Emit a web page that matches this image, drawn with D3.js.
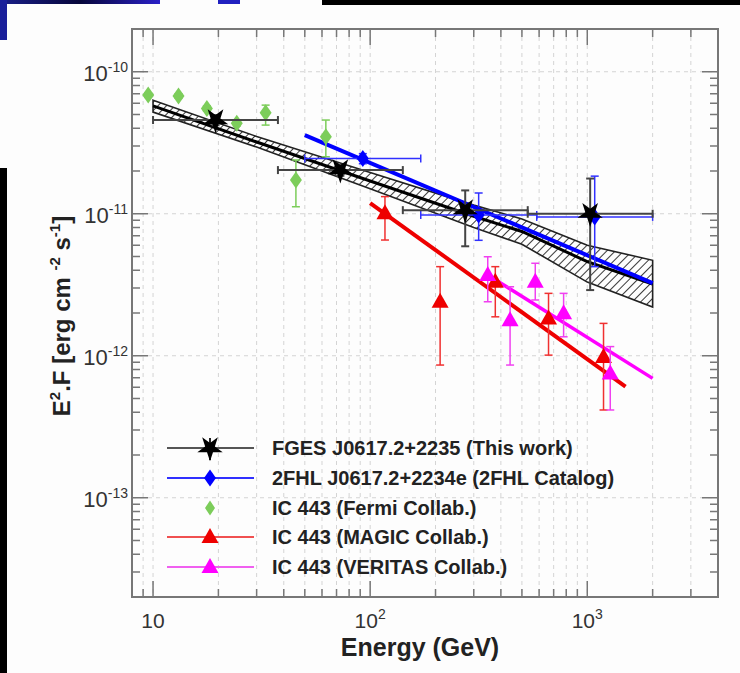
<!DOCTYPE html>
<html><head><meta charset="utf-8">
<script src="https://cdn.jsdelivr.net/npm/d3@7"></script>
<style>
html,body{margin:0;padding:0;background:#fdfdfd;}
svg{display:block;font-family:"Liberation Sans",Arial,Helvetica,sans-serif;}
</style></head>
<body>
<svg id="c" width="740" height="673"></svg>
<script>
// ---------- DATA ----------
// FGES J0617.2+2235 (This work)
const fgesE    = [19.4, 72.9, 274, 1031];
const fgesElo  = [10, 37.6, 141.4, 531.8];
const fgesEhi  = [37.6, 141.4, 531.8, 2000];
const fgesF    = [4.57e-11, 2.03e-11, 1.06e-11, 1.0e-11];
const fgesFlo  = [4.2e-11, 1.85e-11, 5.9e-12, 2.9e-12];
const fgesFhi  = [4.95e-11, 2.2e-11, 1.46e-11, 1.77e-11];
// butterfly (fit + uncertainty band)
const bandE     = [10, 30, 100, 300, 500, 1000, 2000];
const bandUpper = [6.3e-11, 3.5e-11, 1.95e-11, 1.15e-11, 9.2e-12, 6.0e-12, 4.7e-12];
const bandLower = [5.2e-11, 2.95e-11, 1.5e-11, 8.0e-12, 6.1e-12, 3.3e-12, 2.2e-12];
const bandFit   = [5.75e-11, 3.2e-11, 1.7e-11, 9.6e-12, 7.5e-12, 4.6e-12, 3.2e-12];
// 2FHL J0617.2+2234e
const fhlE   = [92.5, 316, 1082];
const fhlElo = [50, 171, 585];
const fhlEhi = [171, 585, 2000];
const fhlF   = [2.45e-11, 9.8e-12, 9.5e-12];
const fhlFlo = [2.25e-11, 6.5e-12, 4.24e-12];
const fhlFhi = [2.65e-11, 1.40e-11, 1.84e-11];
const fhlFitE = [50, 2000];
const fhlFitF = [3.58e-11, 3.25e-12];
// IC 443 Fermi
const fermiE   = [9.5, 13.1, 17.7, 24.3, 33.0, 45.5, 62.5];
const fermiF   = [6.86e-11, 6.74e-11, 5.52e-11, 4.33e-11, 5.14e-11, 1.73e-11, 3.48e-11];
const fermiFlo = [6.6e-11, 6.5e-11, 5.3e-11, 4.15e-11, 4.21e-11, 1.12e-11, 2.52e-11];
const fermiFhi = [7.1e-11, 7.0e-11, 5.75e-11, 4.5e-11, 5.82e-11, 2.39e-11, 4.57e-11];
// IC 443 MAGIC
const magicE   = [117, 210, 377, 663, 1188];
const magicF   = [1.01e-11, 2.40e-12, 3.32e-12, 1.83e-12, 9.8e-13];
const magicFlo = [6.53e-12, 8.6e-13, 1.88e-12, 1.01e-12, 4.15e-13];
const magicFhi = [1.32e-11, 4.24e-12, 4.24e-12, 2.75e-12, 1.69e-12];
const magicFitE = [100, 1500];
const magicFitF = [1.19e-11, 6.05e-13];
// IC 443 VERITAS
const veritasE   = [348, 441, 576, 778, 1276];
const veritasF   = [3.70e-12, 1.78e-12, 3.32e-12, 1.99e-12, 7.5e-13];
const veritasFlo = [2.40e-12, 8.6e-13, 2.47e-12, 1.36e-12, 4.15e-13];
const veritasFhi = [4.98e-12, 3.06e-12, 4.48e-12, 2.75e-12, 1.16e-12];
const veritasFitE = [339, 2000];
const veritasFitF = [3.8e-12, 6.93e-13];
// axes
const xMajor = [10, 100, 1000];
const xLabelBase = ["10", "10", "10"];
const xLabelSup  = ["", "2", "3"];
const yMajor = [1e-10, 1e-11, 1e-12, 1e-13];
const yLabelSup = ["-10", "-11", "-12", "-13"];
const legendLabels = ["FGES J0617.2+2235 (This work)", "2FHL J0617.2+2234e (2FHL Catalog)",
  "IC 443 (Fermi Collab.)", "IC 443 (MAGIC Collab.)", "IC 443 (VERITAS Collab.)"];

// ---------- CHART ----------
const svg = d3.select("#c");
const L = 132, T = 29, R = 718, B = 597;
const x = d3.scaleLog().domain([8, 4000]).range([L, R]);
const y = d3.scaleLog().domain([2e-14, 2e-10]).range([B, T]);

const C = {black:"#000", blue:"#0000ff", green:"#7ccd5a", red:"#ee0000", mag:"#ff00ff"};

// slide remnants around the picture
svg.append("rect").attr("x",0).attr("y",0).attr("width",740).attr("height",673).attr("fill","#fdfdfd");
const dg = svg.append("defs");
const lg = dg.append("linearGradient").attr("id","bg1").attr("x1","0").attr("x2","1");
lg.append("stop").attr("offset","0").attr("stop-color","#1a1f8a");
lg.append("stop").attr("offset","0.5").attr("stop-color","#06063a");
lg.append("stop").attr("offset","1").attr("stop-color","#2a20c8");
svg.append("rect").attr("x",0).attr("y",0).attr("width",160).attr("height",4).attr("fill","url(#bg1)");
svg.append("rect").attr("x",0).attr("y",0).attr("width",7).attr("height",40).attr("fill","#1a1f9a");
svg.append("rect").attr("x",218).attr("y",0).attr("width",22).attr("height",4).attr("fill","#2020c0");
svg.append("rect").attr("x",322).attr("y",0).attr("width",418).attr("height",5).attr("fill","#000");
svg.append("rect").attr("x",0).attr("y",168).attr("width",7).attr("height",505).attr("fill","#000");

// hatch pattern
const pat = dg.append("pattern").attr("id","hatch").attr("patternUnits","userSpaceOnUse")
  .attr("width",6).attr("height",6).attr("patternTransform","rotate(45)");
pat.append("rect").attr("width",6).attr("height",6).attr("fill","#fdfdfd");
pat.append("line").attr("x1",0).attr("y1",0).attr("x2",0).attr("y2",6)
  .attr("stroke","#222").attr("stroke-width",1.8);
dg.append("clipPath").attr("id","plotclip").append("rect")
  .attr("x",L).attr("y",T).attr("width",R-L).attr("height",B-T);

// grid
const xt = x.ticks().filter(v => x(v) > L + 1 && x(v) < R - 1);
const grid = svg.append("g");
grid.selectAll("line.v").data(xt).join("line").attr("class","v")
  .attr("x1",d=>x(d)).attr("x2",d=>x(d)).attr("y1",T).attr("y2",B)
  .attr("stroke","#d4d4d4").attr("stroke-width",1).attr("stroke-dasharray","4,4");
grid.selectAll("line.h").data(yMajor).join("line").attr("class","h")
  .attr("y1",d=>y(d)).attr("y2",d=>y(d)).attr("x1",L).attr("x2",R)
  .attr("stroke","#d4d4d4").attr("stroke-width",1).attr("stroke-dasharray","4,4");

// axes (ticks inside on all four sides)
const axCol = "#777";
const isMajor = v => Math.abs(Math.log10(v) - Math.round(Math.log10(v))) < 1e-6;
const yt = y.ticks();
const tk = svg.append("g").attr("stroke",axCol).attr("stroke-width",1.5);
xt.forEach(v => {
  const len = isMajor(v) ? 16 : 8;
  tk.append("line").attr("x1",x(v)).attr("x2",x(v)).attr("y1",B).attr("y2",B-len);
  tk.append("line").attr("x1",x(v)).attr("x2",x(v)).attr("y1",T).attr("y2",T+len);
});
yt.forEach(v => {
  if (y(v) < T + 1 || y(v) > B - 1) return;
  const len = isMajor(v) ? 16 : 8;
  tk.append("line").attr("y1",y(v)).attr("y2",y(v)).attr("x1",L).attr("x2",L+len);
  tk.append("line").attr("y1",y(v)).attr("y2",y(v)).attr("x1",R).attr("x2",R-len);
});
svg.append("rect").attr("x",L).attr("y",T).attr("width",R-L).attr("height",B-T)
  .attr("fill","none").attr("stroke",axCol).attr("stroke-width",2);

// tick labels
const xl = svg.append("g").attr("fill","#333").attr("font-size",21);
xMajor.forEach((v,i) => {
  const t = xl.append("text").attr("x",x(v)).attr("y",628).attr("text-anchor","middle");
  t.append("tspan").text(xLabelBase[i]);
  if (xLabelSup[i]) t.append("tspan").attr("font-size",14).attr("dy",-9).text(xLabelSup[i]);
});
const yl = svg.append("g").attr("fill","#333").attr("font-size",22);
yMajor.forEach((v,i) => {
  const t = yl.append("text").attr("x",128).attr("y",y(v)+9).attr("text-anchor","end");
  t.append("tspan").text("10");
  t.append("tspan").attr("font-size",14).attr("dy",-9).text(yLabelSup[i]);
});

// axis titles
svg.append("text").attr("x",420).attr("y",656).attr("text-anchor","middle")
  .attr("font-size",25).attr("font-weight","bold").attr("fill","#222").text("Energy (GeV)");
const yt2 = svg.append("text").attr("transform","translate(70,316) rotate(-90)")
  .attr("text-anchor","middle").attr("font-size",24).attr("font-weight","bold").attr("fill","#222");
yt2.append("tspan").text("E");
yt2.append("tspan").attr("font-size",15).attr("dy",-10).text("2");
yt2.append("tspan").attr("dy",10).text(".F [erg cm ");
yt2.append("tspan").attr("font-size",15).attr("dy",-10).text("-2");
yt2.append("tspan").attr("dy",10).text(" s");
yt2.append("tspan").attr("font-size",15).attr("dy",-10).text("-1");
yt2.append("tspan").attr("dy",10).text("]");

// plot content
const P = svg.append("g").attr("clip-path","url(#plotclip)");
const line = d3.line().x(d=>x(d[0])).y(d=>y(d[1]));

// butterfly
const bandPts = bandE.map((e,i)=>[e,bandUpper[i]]).concat(bandE.map((e,i)=>[e,bandLower[i]]).reverse());
P.append("path").attr("d", line(bandPts) + "Z").attr("fill","url(#hatch)")
  .attr("stroke","#222").attr("stroke-width",1.6);
P.append("path").attr("d", line(bandE.map((e,i)=>[e,bandFit[i]]))).attr("fill","none")
  .attr("stroke","#000").attr("stroke-width",3);

// fit lines
P.append("path").attr("d", line(fhlFitE.map((e,i)=>[e,fhlFitF[i]]))).attr("stroke",C.blue).attr("stroke-width",4).attr("fill","none");
P.append("path").attr("d", line(magicFitE.map((e,i)=>[e,magicFitF[i]]))).attr("stroke",C.red).attr("stroke-width",4).attr("fill","none");
P.append("path").attr("d", line(veritasFitE.map((e,i)=>[e,veritasFitF[i]]))).attr("stroke",C.mag).attr("stroke-width",3.5).attr("fill","none");

// marker shapes
const starPath = d3.symbol(d3.symbolStar, 200)();
const diamond = "M0,-8.5L6,0L0,8.5L-6,0Z";
const triangle = "M0,-9L8.5,6L-8.5,6Z";

function errorSet(E, F, Flo, Fhi, Elo, Ehi, col, w) {
  const g = P.append("g").attr("stroke",col).attr("stroke-width",w).attr("fill","none");
  E.forEach((e,i) => {
    const cx = x(e), cy = y(F[i]);
    g.append("line").attr("x1",cx).attr("x2",cx).attr("y1",y(Fhi[i])).attr("y2",y(Flo[i]));
    g.append("line").attr("x1",cx-4).attr("x2",cx+4).attr("y1",y(Fhi[i])).attr("y2",y(Fhi[i]));
    g.append("line").attr("x1",cx-4).attr("x2",cx+4).attr("y1",y(Flo[i])).attr("y2",y(Flo[i]));
    if (Elo) {
      g.append("line").attr("x1",x(Elo[i])).attr("x2",x(Ehi[i])).attr("y1",cy).attr("y2",cy);
      g.append("line").attr("x1",x(Elo[i])).attr("x2",x(Elo[i])).attr("y1",cy-4).attr("y2",cy+4);
      g.append("line").attr("x1",x(Ehi[i])).attr("x2",x(Ehi[i])).attr("y1",cy-4).attr("y2",cy+4);
    }
  });
}
function markers(E, F, path, col, rot) {
  P.append("g").selectAll("path").data(E).join("path")
    .attr("d", path).attr("fill", col)
    .attr("transform", (e,i) => `translate(${x(e)},${y(F[i])})` + (rot ? ` rotate(${rot})` : ""));
}

errorSet(fermiE, fermiF, fermiFlo, fermiFhi, null, null, C.green, 1.5);
markers(fermiE, fermiF, diamond, C.green);
errorSet(magicE, magicF, magicFlo, magicFhi, null, null, "#f03030", 1.5);
markers(magicE, magicF, triangle, C.red);
errorSet(veritasE, veritasF, veritasFlo, veritasFhi, null, null, "#f040f0", 1.5);
markers(veritasE, veritasF, triangle, C.mag);
errorSet(fhlE, fhlF, fhlFlo, fhlFhi, fhlElo, fhlEhi, "#3030ff", 1.5);
markers(fhlE, fhlF, diamond, C.blue);
errorSet(fgesE, fgesF, fgesFlo, fgesFhi, fgesElo, fgesEhi, "#444", 2);
markers(fgesE, fgesF, starPath, C.black, 180);

// legend
const legY = [448, 478, 508, 537, 567];
const legCol = ["#555", "#3030ff", null, "#f05050", "#f060f0"];
const legFill = [C.black, C.blue, C.green, C.red, C.mag];
const legShape = [starPath, diamond, "M0,-7.5L5,0L0,7.5L-5,0Z", triangle, triangle];
const lg2 = svg.append("g");
legendLabels.forEach((lab,i) => {
  if (legCol[i]) lg2.append("line").attr("x1",167).attr("x2",254).attr("y1",legY[i]).attr("y2",legY[i])
    .attr("stroke",legCol[i]).attr("stroke-width",1.8);
  if (i === 0) lg2.append("line").attr("x1",210).attr("x2",210).attr("y1",legY[i]-10).attr("y2",legY[i]+12)
    .attr("stroke","#222").attr("stroke-width",2);
  lg2.append("path").attr("d",legShape[i]).attr("fill",legFill[i])
    .attr("transform",`translate(210,${legY[i]})` + (i===0 ? " rotate(180)" : ""));
  lg2.append("text").attr("x",272).attr("y",legY[i]).attr("dy","0.36em")
    .attr("font-size",20).attr("font-weight","bold").attr("fill","#222").text(lab);
});
</script>
</body></html>
